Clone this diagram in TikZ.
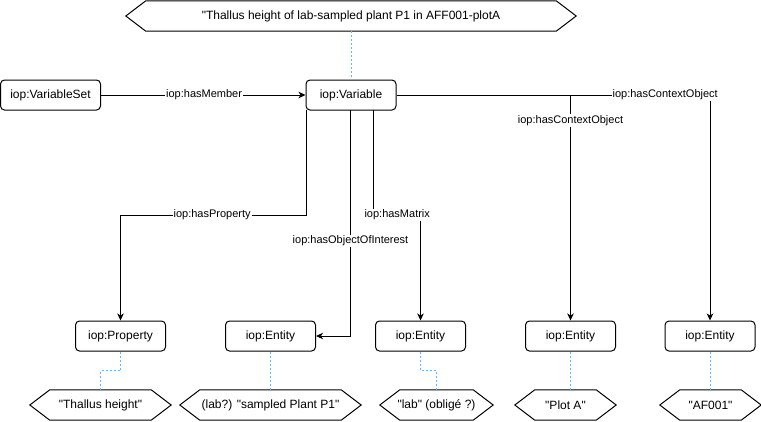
\documentclass[tikz,border=0pt]{standalone}
\usepackage{fontspec}
\setmainfont{Liberation Sans}[Ligatures=TeXOff]
\usetikzlibrary{arrows.meta,calc}
\definecolor{dashblue}{RGB}{102,178,255}
\tikzset{
  box/.style={draw, line width=1pt, rounded corners=4pt, minimum width=90pt, minimum height=30pt, inner sep=0pt, font=\fontsize{12}{14}\selectfont},
  hexnode/.style={inner sep=0pt, font=\fontsize{12}{14}\selectfont},
  hexdraw/.style={draw, line width=1pt},
  edge/.style={line width=1pt},
  arr/.style={edge, -{Stealth[length=7pt,width=6.5pt,inset=2pt]}},
  lbl/.style={fill=white, inner sep=1pt, font=\fontsize{11}{13}\selectfont},
  dashline/.style={draw=dashblue, line width=1pt, dash pattern=on 2pt off 2pt},
}
\newcommand\hexpath[1]{\draw[hexdraw] (#1.west) -- ([xshift=20pt]#1.north west) -- ([xshift=-20pt]#1.north east) -- (#1.east) -- ([xshift=-20pt]#1.south east) -- ([xshift=20pt]#1.south west) -- cycle;}
\begin{document}
\begin{tikzpicture}[x=1pt,y=-1pt]
\useasboundingbox (0,0) rectangle (761,421);
% top hexagon
\node[hexnode, minimum width=450pt, minimum height=30pt] (htop) at (351,16) {"Thallus height of lab-sampled plant P1 in AFF001-plotA};
\hexpath{htop}
% main boxes
\node[box, minimum width=100pt] (vs) at (50.5,95) {iop:VariableSet};
\node[box] (var) at (351,95) {iop:Variable};
\node[box] (prop) at (120.5,336) {iop:Property};
\node[box] (e1) at (270.5,336) {iop:Entity};
\node[box] (e2) at (420.5,336) {iop:Entity};
\node[box] (e3) at (570.5,336) {iop:Entity};
\node[box] (e4) at (710,336) {iop:Entity};
% bottom hexagons
\node[hexnode, minimum width=141pt, minimum height=30pt] (h1) at (100.5,405) {"Thallus height"};
\node[hexnode, minimum width=181pt, minimum height=30pt] (h2) at (270.5,405) {(lab?) "sampled Plant P1"};
\node[hexnode, minimum width=113pt, minimum height=30pt] (h3) at (436.5,405) {"lab" (obligé ?)};
\node[hexnode, minimum width=101pt, minimum height=30pt] (h4) at (565.5,405) {"Plot A"};
\node[hexnode, minimum width=101pt, minimum height=30pt] (h5) at (710.5,405) {"AF001"};
\hexpath{h1}
\hexpath{h2}
\hexpath{h3}
\hexpath{h4}
\hexpath{h5}
% coordinates
\coordinate (cA) at (710,95);
\coordinate (cB) at (570.5,95);
\coordinate (pStart) at (306,110);
\coordinate (pBend) at (306,215);
\coordinate (oStart) at (350.5,110);
\coordinate (mStart) at (373,110);
\coordinate (mBend) at (373,215);
% connectors
\draw[arr] (vs) -- node[lbl, pos=0.504] {iop:hasMember} (var);
\draw[arr] (var.east) -- (cA) node[lbl, pos=0.857] {iop:hasContextObject} -- (e4.north);
\draw[arr] (cB) -- node[lbl, pos=0.113] {iop:hasContextObject} (e3.north);
\draw[arr] (pStart) -- (pBend) -| node[lbl, pos=0.253] {iop:hasProperty} (prop.north);
\draw[arr] (oStart) |- node[lbl, pos=0.29] {iop:hasObjectOfInterest} (e1.east);
\draw[arr] (mStart) -- (mBend) -| node[lbl, pos=0.255] {iop:hasMatrix} (e2.north);
% dashed links
\draw[dashline] (htop.south) -- (var.north);
\draw[dashline] (prop.south) -- ++(0,19) -| (h1.north);
\draw[dashline] (e1.south) -- (h2.north);
\draw[dashline] (e2.south) -- ++(0,19) -| (h3.north);
\draw[dashline] (e3.south) -- (e3.south |- h4.north);
\draw[dashline] (e4.south) -- (e4.south |- h5.north);
\end{tikzpicture}
\end{document}
